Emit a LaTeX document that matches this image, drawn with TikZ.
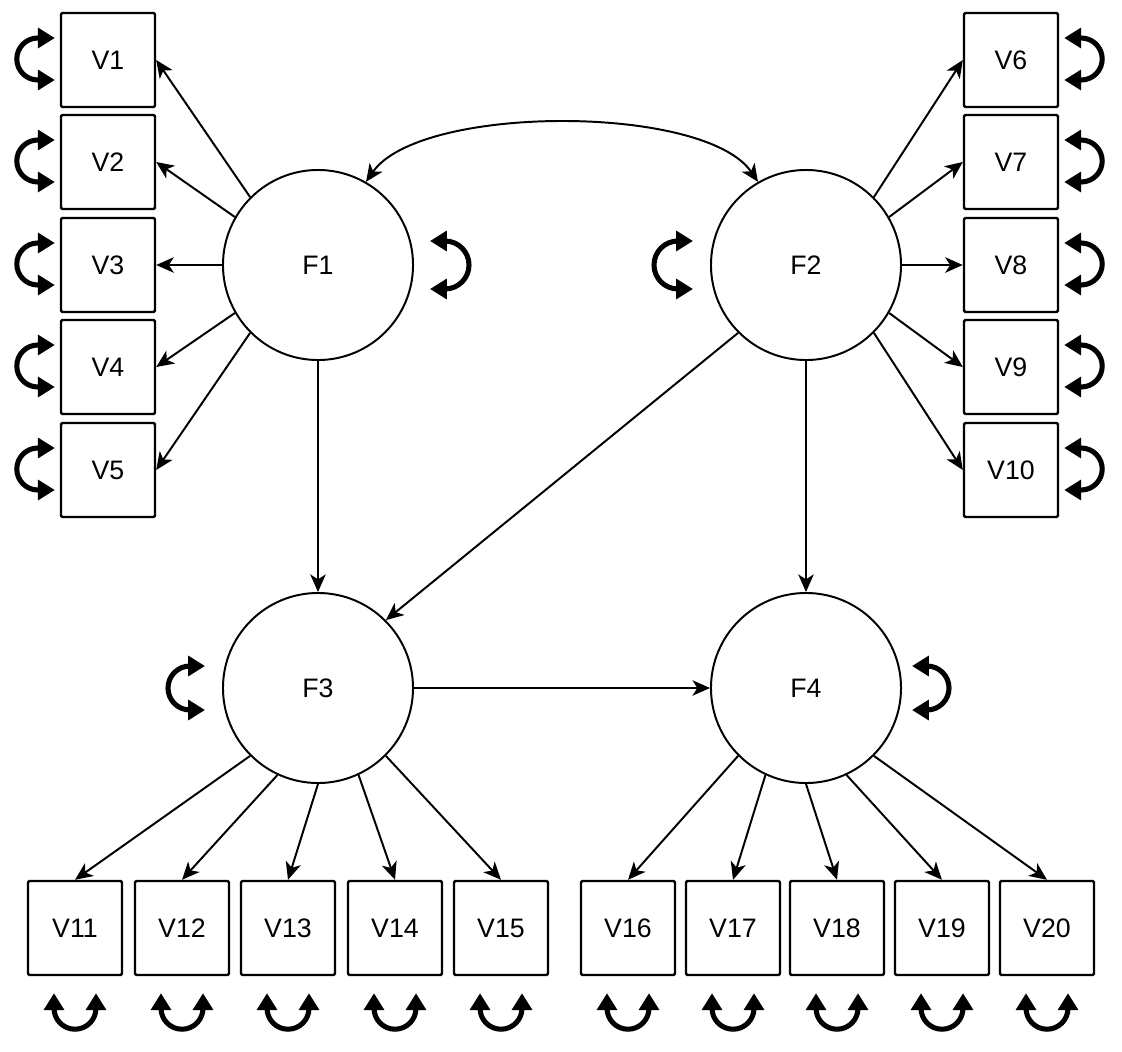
\documentclass[tikz,border=0pt]{standalone}
\usepackage{fontspec}
\setmainfont{Liberation Sans}
\usetikzlibrary{arrows.meta}

\begin{document}
\begin{tikzpicture}[>={Stealth[length=12.5pt, width=11pt, inset=3.5pt]}]
        \def\vert{0.025cm}
        \def\hori{0.025cm}
        \tikzstyle{obs}=[rectangle, draw=black, line width=1.7pt, rounded corners=1pt, minimum width=2.35cm, minimum height=2.35cm, inner sep=0pt, font=\fontsize{19}{23}\selectfont]
        \tikzstyle{lat}=[circle, draw=black, line width=1.4pt, minimum size=4.75cm, inner sep=0pt, font=\fontsize{19}{23}\selectfont]
        \tikzstyle{load}=[->, line width=1.4pt]
        \tikzstyle{resid}=[{Triangle[length=12pt, width=14pt]}-{Triangle[length=12pt, width=14pt]}, line width=3.6pt]

        \useasboundingbox (0pt, 0pt) rectangle (1122*\hori, -1051*\vert);

        % Nodes
        \node[lat] (F1) at (318*\hori, -265*\vert) {F1};
        \node[lat] (F2) at (806*\hori, -265*\vert) {F2};
        \node[lat] (F3) at (318*\hori, -688*\vert) {F3};
        \node[lat] (F4) at (806*\hori, -688*\vert) {F4};

        \node[obs] (V1) at (108*\hori, -60*\vert) {V1};
        \node[obs] (V2) at (108*\hori, -162*\vert) {V2};
        \node[obs] (V3) at (108*\hori, -265*\vert) {V3};
        \node[obs] (V4) at (108*\hori, -367*\vert) {V4};
        \node[obs] (V5) at (108*\hori, -470*\vert) {V5};

        \node[obs] (V6) at (1011*\hori, -60*\vert) {V6};
        \node[obs] (V7) at (1011*\hori, -162*\vert) {V7};
        \node[obs] (V8) at (1011*\hori, -265*\vert) {V8};
        \node[obs] (V9) at (1011*\hori, -367*\vert) {V9};
        \node[obs] (V10) at (1011*\hori, -470*\vert) {V10};

        \node[obs] (V11) at (75*\hori, -928*\vert) {V11};
        \node[obs] (V12) at (182*\hori, -928*\vert) {V12};
        \node[obs] (V13) at (288*\hori, -928*\vert) {V13};
        \node[obs] (V14) at (395*\hori, -928*\vert) {V14};
        \node[obs] (V15) at (501*\hori, -928*\vert) {V15};

        \node[obs] (V16) at (628*\hori, -928*\vert) {V16};
        \node[obs] (V17) at (733*\hori, -928*\vert) {V17};
        \node[obs] (V18) at (837*\hori, -928*\vert) {V18};
        \node[obs] (V19) at (942*\hori, -928*\vert) {V19};
        \node[obs] (V20) at (1047*\hori, -928*\vert) {V20};

        % Edges
        \draw [load] (F1.135) to (V1.east);
        \draw [load] (F1.150) to (V2.east);
        \draw [load] (F1.180) to (V3.east);
        \draw [load] (F1.210) to (V4.east);
        \draw [load] (F1.225) to (V5.east);

        \draw [load] (F2.45) to (V6.west);
        \draw [load] (F2.30) to (V7.west);
        \draw [load] (F2.0) to (V8.west);
        \draw [load] (F2.330) to (V9.west);
        \draw [load] (F2.315) to (V10.west);

        \draw [load] (F3.225) to (V11.north);
        \draw [load] (F3.245) to (V12.north);
        \draw [load] (F3.270) to (V13.north);
        \draw [load] (F3.295) to (V14.north);
        \draw [load] (F3.315) to (V15.north);

        \draw [load] (F4.225) to (V16.north);
        \draw [load] (F4.245) to (V17.north);
        \draw [load] (F4.270) to (V18.north);
        \draw [load] (F4.295) to (V19.north);
        \draw [load] (F4.315) to (V20.north);

        \draw [load] (F1.south) to (F3.north);
        \draw [load] (F2.south) to (F4.north);
        \draw [load] (F2.225) to (F3.45);
        \draw [load] (F3.east) to (F4.west);
        \draw [<->, line width=1.4pt] (F1.60) .. controls (420*\hori, -104*\vert) and (705*\hori, -104*\vert) .. (F2.120);

        % Variances
        \foreach \i in {1,...,5}
            \draw [resid] ([xshift=-5*\hori, yshift=22*\vert]V\i.west) -- ++(-17*\hori, 0pt) arc[start angle=90, end angle=270, radius=21*\hori] -- ++(17*\hori, 0pt);
        \foreach \i in {6,...,10}
            \draw [resid] ([xshift=5*\hori, yshift=22*\vert]V\i.east) -- ++(17*\hori, 0pt) arc[start angle=90, end angle=-90, radius=21*\hori] -- ++(-17*\hori, 0pt);
        \foreach \i in {11,...,20}
            \draw [resid] ([xshift=-21*\hori, yshift=-17*\vert]V\i.south) -- ++(0pt, -15*\vert) arc[start angle=180, end angle=360, radius=21*\hori] -- ++(0pt, 15*\vert);

        \draw [resid] ([xshift=16*\hori, yshift=24*\vert]F1.east) -- ++(15*\hori, 0pt) arc[start angle=90, end angle=-90, radius=24*\hori] -- ++(-15*\hori, 0pt);
        \draw [resid] ([xshift=-17*\hori, yshift=24*\vert]F2.west) -- ++(-15*\hori, 0pt) arc[start angle=90, end angle=270, radius=24*\hori] -- ++(15*\hori, 0pt);
        \draw [resid] ([xshift=-17*\hori, yshift=22*\vert]F3.west) -- ++(-15*\hori, 0pt) arc[start angle=90, end angle=270, radius=22*\hori] -- ++(15*\hori, 0pt);
        \draw [resid] ([xshift=10*\hori, yshift=22*\vert]F4.east) -- ++(15*\hori, 0pt) arc[start angle=90, end angle=-90, radius=22*\hori] -- ++(-15*\hori, 0pt);

    \end{tikzpicture}
\end{document}
